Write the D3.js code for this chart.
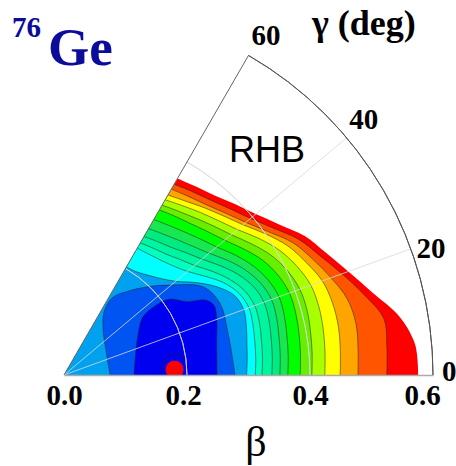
<!DOCTYPE html>
<html>
<head>
<meta charset="utf-8">
<script src="https://cdn.jsdelivr.net/npm/d3@7"></script>
<style>
  body { margin: 0; background: #fff; }
  .tick-label { font-family: "Liberation Serif", serif; font-weight: bold; font-size: 29px; fill: #000; }
</style>
</head>
<body>
<script>
var width = 456, height = 466;
var origin = {x: 64, y: 375};
var outerR = 369;

// axis ticks
var betaTicks = [0.0, 0.2, 0.4, 0.6];
var gammaTicks = [0, 20, 40, 60];

// gamma values where the open contours are read (deg)
var gammaSteps = [0, 5, 10, 15, 20, 25, 30, 35, 40, 45, 50, 55, 60];

// beta of each open contour at gammaSteps, from the cyan edge out to the red edge
var openContours = [
    [.297, .299, .302, .307, .311, .306, .287, .262, .237, .222, .212, .205, .203],
    [.311, .313, .315, .318, .320, .314, .300, .280, .262, .251, .244, .240, .238],
    [.322, .324, .326, .329, .330, .324, .311, .294, .277, .266, .257, .252, .248],
    [.338, .340, .342, .345, .346, .340, .327, .310, .293, .281, .271, .265, .260],
    [.351, .353, .355, .358, .359, .353, .341, .325, .308, .296, .287, .280, .275],
    [.364, .366, .368, .371, .372, .366, .355, .340, .324, .313, .304, .297, .292],
    [.384, .386, .388, .390, .390, .384, .373, .357, .341, .330, .321, .315, .310],
    [.403, .405, .407, .409, .408, .401, .389, .372, .355, .343, .333, .325, .319],
    [.424, .426, .428, .429, .427, .418, .405, .387, .368, .355, .345, .336, .329],
    [.449, .451, .453, .452, .447, .434, .420, .400, .380, .366, .355, .345, .338],
    [.478, .480, .482, .477, .462, .446, .430, .406, .386, .372, .361, .354, .349],
    [.525, .527, .528, .505, .481, .459, .441, .416, .396, .382, .371, .364, .358],
    [.576, .573, .553, .519, .492, .470, .452, .427, .407, .393, .381, .374, .369]
];

// closed contours around the minimum, as [gamma, beta]
var loop3 = [[0, .075], [31, .0795], [49, .097], [57.5, .121], [58, .148], [53, .170], [46, .200],
             [40.3, .226], [32.3, .268], [24.8, .279], [13, .275], [0, .278]];
var loop2 = [[0, .114], [25.6, .132], [36.3, .159], [37.1, .189], [35.6, .212], [30.8, .233],
             [28, .260], [25, .269], [19.8, .264], [11.1, .253], [0, .249]];
var loop1 = [[0, .160], [8.4, .166], [11.5, .179], [9.8, .191], [4.7, .199], [0, .200]];

// band colours, lowest energy first
var bandColors = ["#0000f0", "#0000f0", "#0055f2", "#00a2f0", "#00ffff", "#00ffc0",
                  "#00f5a0", "#00ec80", "#18e850", "#00ff00", "#66f000", "#a8ff00",
                  "#ffff00", "#ffa500", "#ff5500", "#ff0000"];

// position of the minimum [gamma, beta]
var minimum = [2.8, 0.18];

var svg = d3.select("body").append("svg")
    .attr("width", width)
    .attr("height", height);

var r = d3.scaleLinear().domain([0, 0.6]).range([0, outerR]);
var a = d3.scaleLinear().domain([0, 60]).range([Math.PI / 2, Math.PI / 6]);

var g = svg.append("g")
    .attr("transform", "translate(" + origin.x + "," + origin.y + ")");

var wedge = d3.arc()({innerRadius: 0, outerRadius: outerR, startAngle: a(60), endAngle: a(0)});

svg.append("defs").append("clipPath")
    .attr("id", "wedge")
    .append("path")
    .attr("d", wedge);

g.append("path").attr("d", wedge).attr("fill", "#fff");

var plot = g.append("g").attr("clip-path", "url(#wedge)");

var area = d3.areaRadial()
    .angle(function(d, i) { return a(gammaSteps[i]); })
    .innerRadius(0)
    .outerRadius(function(d) { return r(d); })
    .curve(d3.curveCatmullRom);

var line = d3.lineRadial()
    .angle(function(d, i) { return a(gammaSteps[i]); })
    .radius(function(d) { return r(d); })
    .curve(d3.curveCatmullRom);

var loopLine = d3.lineRadial()
    .angle(function(d) { return a(d[0]); })
    .radius(function(d) { return r(d[1]); })
    .curve(d3.curveCatmullRom);

// filled bands, outermost first
for (var k = openContours.length - 1; k >= 0; k--) {
    plot.append("path")
        .attr("d", area(openContours[k]))
        .attr("fill", bandColors[k + 3]);
}
[loop3, loop2, loop1].forEach(function(lp, i) {
    plot.append("path")
        .attr("d", loopLine(lp) + "Z")
        .attr("fill", bandColors[2 - i]);
});

// contour lines
openContours.forEach(function(c, k) {
    if (k === openContours.length - 1) return;
    plot.append("path")
        .attr("d", line(c))
        .attr("fill", "none")
        .attr("stroke", "#222")
        .attr("stroke-opacity", 0.75)
        .attr("stroke-width", 0.7);
});
[loop3, loop2, loop1].forEach(function(lp) {
    plot.append("path")
        .attr("d", loopLine(lp))
        .attr("fill", "none")
        .attr("stroke", "#222")
        .attr("stroke-opacity", 0.75)
        .attr("stroke-width", 0.7);
});

// minimum
plot.append("circle")
    .attr("cx", r(minimum[1]) * Math.cos(minimum[0] * Math.PI / 180))
    .attr("cy", -r(minimum[1]) * Math.sin(minimum[0] * Math.PI / 180))
    .attr("r", 9)
    .attr("fill", "#ff0000");

// grid
[0.2, 0.4].forEach(function(b) {
    g.append("path")
        .attr("d", d3.arc()({innerRadius: r(b), outerRadius: r(b), startAngle: a(60), endAngle: a(0)}))
        .attr("fill", "none")
        .attr("stroke", "#d8d8d8")
        .attr("stroke-opacity", 0.8)
        .attr("stroke-width", 1);
});
[20, 40].forEach(function(gm) {
    g.append("line")
        .attr("x1", 0).attr("y1", 0)
        .attr("x2", outerR * Math.cos(gm * Math.PI / 180))
        .attr("y2", -outerR * Math.sin(gm * Math.PI / 180))
        .attr("stroke", "#d8d8d8")
        .attr("stroke-opacity", 0.8)
        .attr("stroke-width", 1);
});

// frame
g.append("path")
    .attr("d", d3.arc()({innerRadius: outerR, outerRadius: outerR, startAngle: a(60), endAngle: a(0)}))
    .attr("fill", "none")
    .attr("stroke", "#555")
    .attr("stroke-width", 1);
g.append("line")
    .attr("x1", 0).attr("y1", 0)
    .attr("x2", outerR * Math.cos(Math.PI / 3))
    .attr("y2", -outerR * Math.sin(Math.PI / 3))
    .attr("stroke", "#666")
    .attr("stroke-width", 1);

// beta axis
var xAxis = d3.axisBottom(r)
    .tickValues(betaTicks)
    .tickFormat(d3.format(".1f"))
    .tickSize(0)
    .tickSizeOuter(0)
    .tickPadding(9);

var ax = g.append("g").call(xAxis);
ax.select(".domain").attr("stroke", "#aaa").attr("stroke-width", 1.5);
ax.selectAll("text")
    .attr("class", "tick-label")
    .attr("fill", "#000")
    .attr("dx", function(d) { return d === 0.2 ? -4 : d === 0.6 ? -11 : 0; });

// gamma labels
gammaTicks.forEach(function(gm) {
    var rad = outerR + 6;
    g.append("text")
        .attr("class", "tick-label")
        .attr("x", rad * Math.cos(gm * Math.PI / 180))
        .attr("y", -rad * Math.sin(gm * Math.PI / 180))
        .attr("dx", gm === 40 ? -2 : gm === 0 ? 3 : 0)
        .attr("dy", gm >= 40 ? -5 : gm === 0 ? 6 : 11)
        .text(gm);
});

svg.append("text")
    .attr("x", 312)
    .attr("y", 35)
    .attr("font-family", "Liberation Serif, serif")
    .attr("font-weight", "bold")
    .attr("font-size", 36)
    .text("\u03b3 (deg)");

svg.append("text")
    .attr("x", 256)
    .attr("y", 456)
    .attr("text-anchor", "middle")
    .attr("font-family", "Liberation Serif, serif")
    .attr("font-size", 42)
    .text("\u03b2");

svg.append("text")
    .attr("x", 229)
    .attr("y", 162)
    .attr("font-family", "Liberation Sans, Arial, sans-serif")
    .attr("font-size", 36)
    .text("RHB");

var title = svg.append("text")
    .attr("x", 12)
    .attr("y", 65)
    .attr("font-family", "Liberation Serif, serif")
    .attr("font-weight", "bold")
    .attr("fill", "#0c0c9c");
title.append("tspan")
    .attr("font-size", 29)
    .attr("dy", -28)
    .text("76");
title.append("tspan")
    .attr("font-size", 53)
    .attr("dx", 7)
    .attr("dy", 28)
    .text("Ge");
</script>
</body>
</html>
